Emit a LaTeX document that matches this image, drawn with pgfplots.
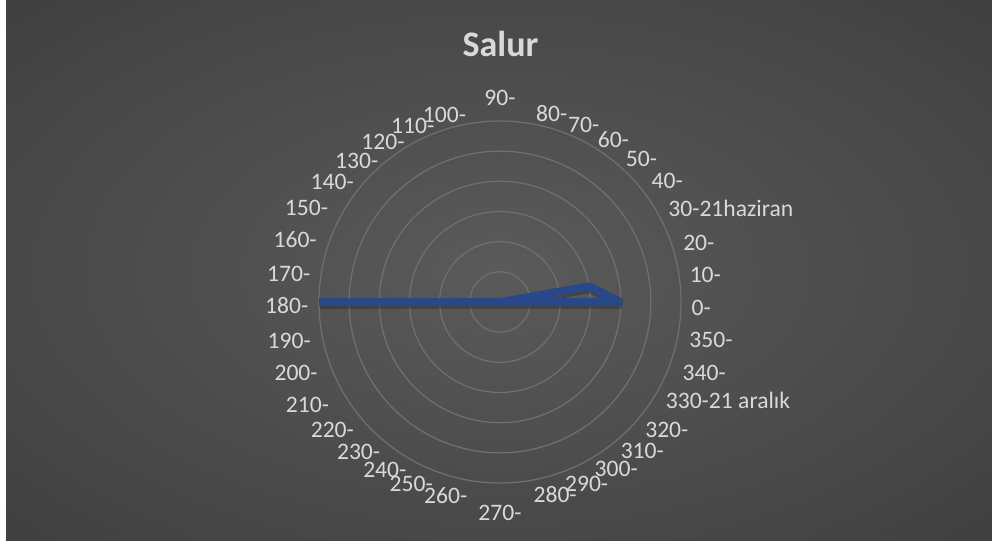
\documentclass[border=0pt]{standalone}
\usepackage{pgfplots}
\pgfplotsset{compat=1.18}
\usepackage{pgfplotstable}
\usepgfplotslibrary{polar}
\usepackage{fontspec}
\setmainfont{Carlito}
\definecolor{bgc}{HTML}{5A5A5A}
\definecolor{bgo}{HTML}{252525}
\definecolor{gridc}{HTML}{707070}
\definecolor{txt}{HTML}{D9D9D9}
\definecolor{ser}{HTML}{28488A}
\pgfdeclareradialshading{bgshade}{\pgfpoint{0bp}{0bp}}{color(0bp)=(bgc); color(72bp)=(bgo)}
\newcommand\lab[1]{\rule{0pt}{21.9bp}#1}

\pgfplotstableread{
a r
90 0
80 0
70 0
60 0
50 0
40 0
30 0
20 0
10 3
0 4
350 0
340 0
330 0
320 0
310 0
300 0
290 0
280 0
270 0
260 0
250 0
240 0
230 0
220 0
210 0
200 0
190 0
180 6
170 0
160 0
150 0
140 0
130 0
120 0
110 0
100 0
90 0
}\salur

\begin{document}
\begin{tikzpicture}
\path[use as bounding box] (0,0) rectangle (992bp,542bp);
\fill[white] (0,0) rectangle (992bp,542bp);
\shade[shading=bgshade] (6bp,1.5bp) rectangle (992bp,542bp);
\node[anchor=base, text=txt, font=\fontsize{36bp}{40bp}\selectfont\bfseries] at (500.5bp,485bp) {Salur};
\begin{polaraxis}[
  at={(500bp,240bp)}, anchor=center,
  scale only axis, width=362bp, height=362bp,
  ymin=0, ymax=6, ytick={1,...,5}, yticklabels={},
  ymajorgrids, xmajorgrids=false,
  major tick length=0pt,
  y grid style={draw=gridc, line width=1.2bp},
  x axis line style={draw=gridc, line width=1.2bp},
  y axis line style={draw=none},
  clip=false,
  xtick={359.4,8.37,17.55,36.8,46.0,55.7,65.1,74.9,90,106.3,116.0,125.7,134.8,143.9,153.3,162.5,171.5,180.3,189.6,198.5,207.4,216.6,226.0,235.0,243.6,254.1,270,286.2,295.9,305.4,314.4,323.4,341.9,350.8},
  xticklabels={\lab{0-},\lab{10-},\lab{20-},\lab{40-},\lab{50-},\lab{60-},\lab{70-},\lab{80-},\rule[-10.5bp]{0pt}{32.4bp}90-,\lab{100-},\lab{110-},\lab{120-},\lab{130-},\lab{140-},\lab{150-},\lab{160-},\lab{170-},\lab{180-},\lab{190-},\lab{200-},\lab{210-},\lab{220-},\lab{230-},\lab{240-},\lab{250-},\lab{260-},\rule{0pt}{31.9bp}270-,\lab{280-},\lab{290-},\lab{300-},\lab{310-},\lab{320-},\lab{340-},\lab{350-}},
  xticklabel style={anchor=\tick+180, inner xsep=10.5bp, inner ysep=5bp, font=\fontsize{23.6bp}{28bp}\selectfont, text=txt},
  extra x ticks={31.3,327.2},
  extra x tick labels={30-21haziran,330-21 aralık},
  extra x tick style={xticklabel style={anchor=west, inner sep=13.5bp}},
]
\addplot[draw=black, opacity=0.22, line width=8.5bp, line join=bevel, xshift=1bp, yshift=-2.5bp] table[x=a, y=r] {\salur};
\addplot[draw=ser, line width=7.8bp, line join=bevel] table[x=a, y=r] {\salur};
\end{polaraxis}
\end{tikzpicture}
\end{document}
